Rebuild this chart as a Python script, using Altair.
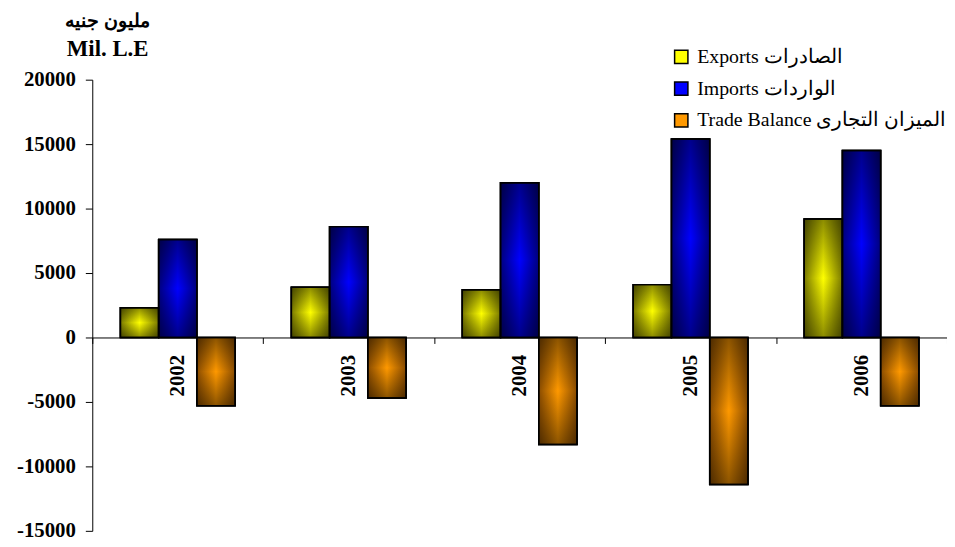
import altair as alt
import pandas as pd

years = ["2002", "2003", "2004", "2005", "2006"]
exports = [2300, 3900, 3700, 4100, 9200]
imports = [7600, 8600, 12000, 15400, 14500]
balance = [-5300, -4700, -8300, -11400, -5300]
series = ["Exports الصادرات", "Imports الواردات", "Trade Balance  الميزان التجارى"]
colors = ["#ffff00", "#0000ff", "#ff9900"]
edge_colors = ["#7a7a00", "#000080", "#8a4c00"]
y_ticks = [-15000, -10000, -5000, 0, 5000, 10000, 15000, 20000]
unit_ar = ["مليون جنيه"]
unit_en = "Mil. L.E"

rows = []
for i, yr in enumerate(years):
    for s, vals in zip(series, [exports, imports, balance]):
        rows.append({"year": yr, "series": s, "value": vals[i]})
df = pd.DataFrame(rows)

FONT = "Liberation Serif"

x_enc = alt.X(
    "year:N",
    sort=years,
    scale=alt.Scale(paddingInner=0, paddingOuter=0),
    axis=alt.Axis(
        title=None, orient="bottom", offset=-195,
        domainColor="black", domainWidth=1,
        tickColor="black", tickSize=6, tickBand="extent",
        labelAngle=270, labelAlign="right", labelBaseline="middle",
        labelPadding=11, labelFont=FONT, labelFontWeight="bold",
        labelFontSize=21, labelColor="black",
    ),
)
xo_enc = alt.XOffset(
    "series:N",
    scale=alt.Scale(domain=series, paddingInner=0, paddingOuter=0.735),
)
y_enc = alt.Y(
    "value:Q",
    scale=alt.Scale(domain=[-15000, 20000], nice=False),
    axis=alt.Axis(
        values=y_ticks, labelExpr="'' + datum.value", grid=False,
        domainColor="black", tickColor="black", tickSize=7, labelPadding=10,
        labelFont=FONT, labelFontWeight="bold", labelFontSize=21, labelColor="black",
        title=unit_en, titleAngle=0, titleAlign="center", titleBaseline="alphabetic",
        titleX=15, titleY=-24, titleFont=FONT, titleFontSize=23,
        titleFontWeight="bold", titleColor="black",
    ),
)

base = alt.Chart(df).mark_bar(stroke="black", strokeWidth=1.5).encode(
    x=x_enc, xOffset=xo_enc, y=y_enc,
    color=alt.Color(
        "series:N",
        scale=alt.Scale(domain=series, range=colors),
        legend=alt.Legend(
            title=None, orient="none", legendX=584, legendY=-33,
            direction="vertical", symbolType="square", symbolSize=180,
            symbolStrokeColor="black", symbolStrokeWidth=1.5,
            labelFont=FONT, labelFontSize=20, labelColor="black",
            rowPadding=12, padding=0, labelOffset=6, labelLimit=400,
        ),
    ),
)

layers = [base]
for s, c, e in zip(series, colors, edge_colors):
    grad = alt.LinearGradient(
        gradient="linear", x1=0, y1=0, x2=1, y2=0,
        stops=[
            alt.GradientStop(color=e, offset=0),
            alt.GradientStop(color=c, offset=0.5),
            alt.GradientStop(color=e, offset=1),
        ],
    )
    layers.append(
        alt.Chart(df).transform_filter(alt.datum.series == s)
        .mark_bar(fill=grad, stroke="black", strokeWidth=1.5)
        .encode(x=x_enc, xOffset=xo_enc, y=y_enc)
    )

shade = alt.LinearGradient(
    gradient="linear", x1=0, y1=0, x2=0, y2=1,
    stops=[
        alt.GradientStop(color="rgba(0,0,0,0.45)", offset=0),
        alt.GradientStop(color="rgba(0,0,0,0)", offset=0.5),
        alt.GradientStop(color="rgba(0,0,0,0.45)", offset=1),
    ],
)
layers.append(
    alt.Chart(df).mark_bar(fill=shade, stroke="black", strokeWidth=1.5)
    .encode(x=x_enc, xOffset=xo_enc, y=y_enc)
)

unit_df = pd.DataFrame({"label": unit_ar})
layers.append(
    alt.Chart(unit_df).mark_text(
        font=FONT, fontSize=19, fontWeight="bold", color="black",
        align="center", baseline="alphabetic",
    ).encode(x=alt.value(15), y=alt.value(-53), text="label:N")
)

chart = alt.layer(*layers).properties(
    width=862, height=455,
    autosize=alt.AutoSizeParams(type="none"),
    padding={"left": 85, "top": 70, "right": 0, "bottom": 12},
).configure_view(strokeWidth=0)

chart.save("out.html", embed_options={"renderer": "svg", "actions": False})
